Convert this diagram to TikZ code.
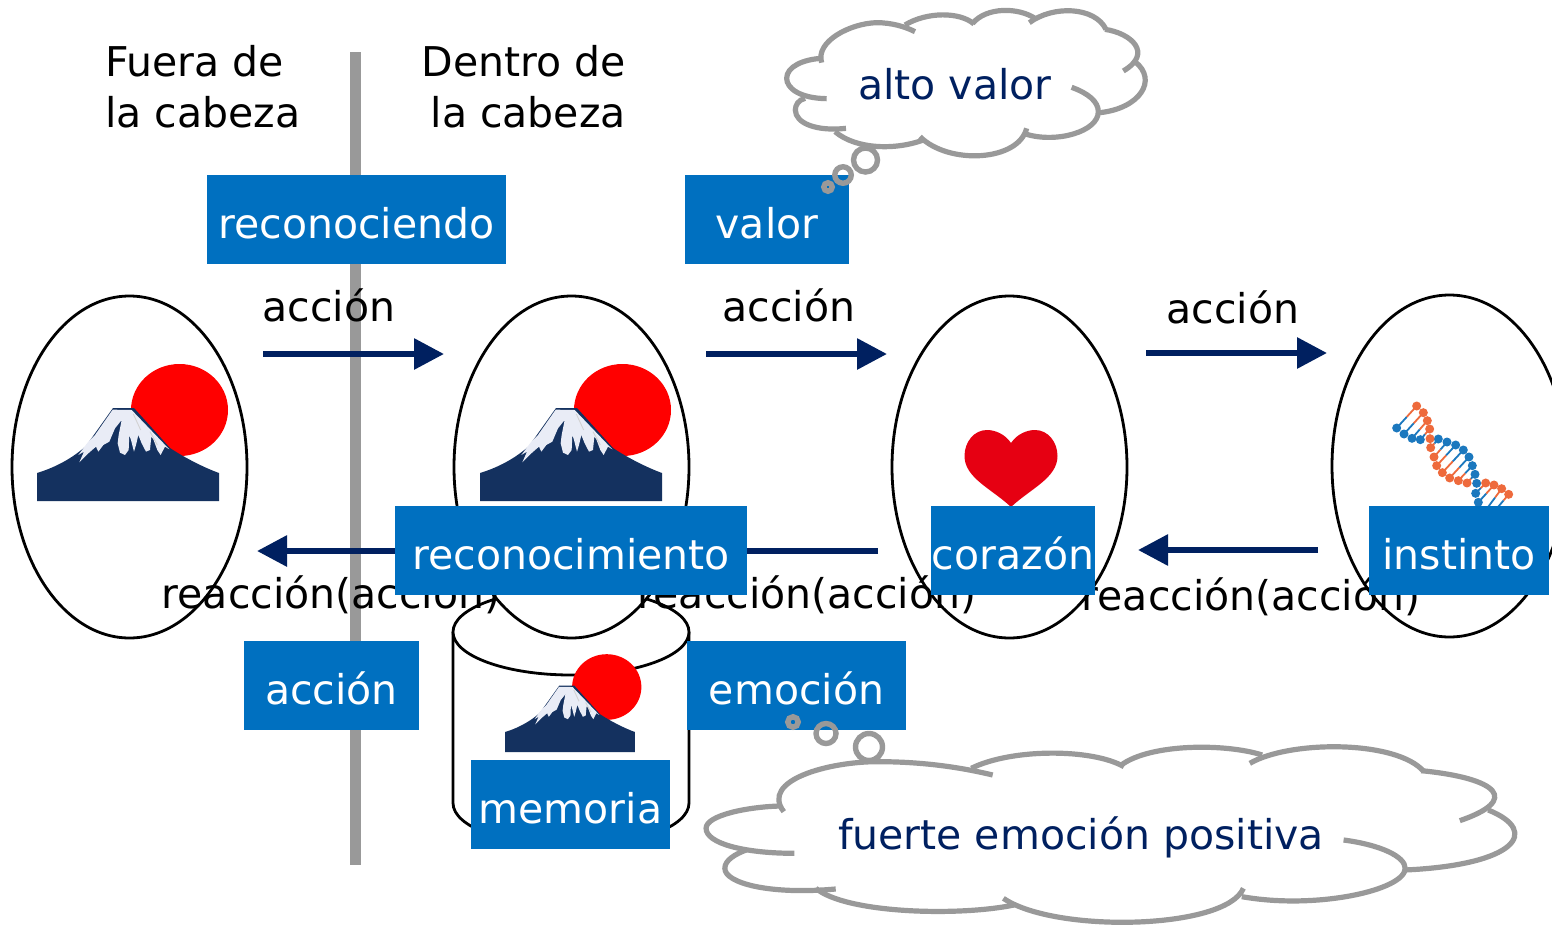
\documentclass[tikz,border=0pt]{standalone}
\usepackage{fontspec}
\setmainfont{DejaVu Sans}
\usetikzlibrary{shapes.geometric,arrows.meta}
\definecolor{navy}{HTML}{002060}
\definecolor{boxblue}{HTML}{0070C0}
\definecolor{bargray}{HTML}{999999}
\definecolor{fujidark}{HTML}{14315F}
\definecolor{fujisnow}{HTML}{E9ECF6}
\definecolor{heartred}{HTML}{E60012}
\definecolor{dnaorange}{HTML}{EE6A3C}
\definecolor{dnablue}{HTML}{1B78BE}
\tikzset{
  txt/.style={font=\fontsize{41}{51}\selectfont,inner sep=0pt,text height=30pt,text depth=0pt},
  bluebox/.style={fill=boxblue,text=white,font=\fontsize{41}{51}\selectfont,inner sep=0pt,text height=38pt,text depth=0pt,minimum height=89pt},
  egg/.style={ellipse,draw=black,fill=white,line width=2.8pt,minimum width=235pt,minimum height=342pt,inner sep=0pt},
  navyarrow/.style={draw=navy,line width=6pt,-{Triangle[length=30pt,width=30pt]}},
  cloudline/.style={draw=bargray,line width=5.2pt},
  bubble/.style={circle,draw=bargray,line width=5.4pt,inner sep=0pt},
}
\newcommand{\fuji}[3]{%
  \begin{scope}[shift={({#1-37*#3},{#2-501*#3})},scale=#3]
    \fill[red] (179.5,410) ellipse (48.5 and 46);
    \fill[fujidark] (37,473) .. controls (60,466) and (76,455) .. (86,446) -- (113,408) -- (134,408)
      -- (170,448) .. controls (185,458) and (205,468) .. (219,473) -- (219,501) -- (37,501) -- cycle;
    \begin{scope}[shift={(70,400)},scale=0.3333]
      \fill[fujisnow] (128,29) -- (185,30) -- (298,148) -- (285,140) -- (272,165) -- (262,150) -- (250,118)
        -- (244,110) -- (240,150) -- (228,155) -- (215,130) -- (205,105) -- (198,135) -- (192,155)
        -- (183,120) -- (178,105) -- (176,150) -- (165,165) -- (150,158) -- (143,130) -- (146,105)
        -- (155,60) -- (135,85) -- (118,125) -- (100,135) -- (85,155) -- (78,140) -- (55,160)
        -- (28,187) -- (42,155) -- (25,165) -- (55,125) -- (75,105) -- cycle;
      \draw[gray!35,line width=0.9pt] (190,42) -- (212,90);
      \draw[gray!35,line width=0.9pt] (240,95) -- (262,135);
    \end{scope}
  \end{scope}}
\begin{document}
\begin{tikzpicture}[x=1pt,y=-1pt]
\clip (0,0) rectangle (1552,926);
\fill[white] (0,0) rectangle (1552,926);
% bar
\coordinate (barTop) at (355,52);
\coordinate (barBot) at (355,865);
\draw[bargray,line width=11pt] (barTop) -- (barBot);
% cylinder
\draw[black,line width=2.8pt,fill=white] (453,632) -- (453,803) .. controls (453,827) and (505,846) .. (571,846)
  .. controls (637,846) and (689,827) .. (689,803) -- (689,632);
\node[ellipse,draw=black,fill=white,line width=2.8pt,minimum width=236pt,minimum height=86pt,inner sep=0pt] (cyltop) at (571,632) {};
% ovals
\node[egg] (e1) at (129.5,467) {};
\node[egg] (e2) at (571.5,467) {};
\node[egg] (e3) at (1009.5,467) {};
\node[egg] (e4) at (1449.5,466) {};
% pictures
\fuji{37}{501}{1}
\fuji{480}{501}{1}
\fuji{505}{752}{0.714}
% heart
\fill[heartred] (1011,443) .. controls (1005,434) and (995,430) .. (987,430)
  .. controls (974,430) and (964.5,442) .. (964.5,456)
  .. controls (964.5,478) and (992,489) .. (1011,507)
  .. controls (1030,489) and (1057.5,478) .. (1057.5,456)
  .. controls (1057.5,442) and (1048,430) .. (1035,430)
  .. controls (1027,430) and (1017,434) .. (1011,443) -- cycle;
% dna
\begin{scope}[shift={(1385,395)},scale=0.3333]
  \foreach \ox/\oy/\bx/\by in {95/33/35/99,115/53/57/117,127/77/81/130,134/102/106/134,137/158/160/132,147/186/186/141,155/212/212/150,172/233/235/165,194/249/252/186,220/257/262/212,246/264/270/238,302/264/272/295,327/270/280/322,350/281/310/335,371/298/340/335}{
    \draw[dnaorange,line width=1.8pt] (\ox,\oy) -- ({(\ox+\bx)/2},{(\oy+\by)/2});
    \draw[dnablue,line width=1.8pt] (\bx,\by) -- ({(\ox+\bx)/2},{(\oy+\by)/2});
  }
  \foreach \x/\y in {35/99,57/117,81/130,106/134,160/132,186/141,212/150,235/165,252/186,262/212,270/238,275/265,272/295,280/322}{
    \fill[dnablue] (\x,\y) circle (13.5);
  }
  \foreach \x/\y in {95/33,115/53,127/77,134/102,135/131,137/158,147/186,155/212,172/233,194/249,220/257,246/264,302/264,327/270,350/281,371/298}{
    \fill[dnaorange] (\x,\y) circle (13.5);
  }
\end{scope}
% arrows
\coordinate (a1s) at (263,354); \coordinate (a1e) at (444,354);
\coordinate (a2s) at (706,354); \coordinate (a2e) at (887,354);
\coordinate (a3s) at (1146,353); \coordinate (a3e) at (1327,353);
\coordinate (r1s) at (878,551); \coordinate (r1e) at (257,551);
\coordinate (r2s) at (1318,550); \coordinate (r2e) at (1138,550);
\draw[navyarrow] (a1s) -- (a1e);
\draw[navyarrow] (a2s) -- (a2e);
\draw[navyarrow] (a3s) -- (a3e);
\draw[navyarrow] (r1s) -- (r1e);
\draw[navyarrow] (r2s) -- (r2e);
% labels
\node[txt,anchor=base west,align=left] (fuera) at (105,127) {Fuera de\\la cabeza};
\node[txt,anchor=base east,align=right] (dentro) at (626,127) {Dentro de\\la cabeza};
\node[txt,anchor=base] (l1) at (329,321) {acción};
\node[txt,anchor=base] (l2) at (789,321) {acción};
\node[txt,anchor=base] (l3) at (1233,323) {acción};
\node[txt,anchor=base] (r1) at (331,608) {reacción(acción)};
\node[txt,anchor=base] (r2) at (807,608) {reacción(acción)};
\node[txt,anchor=base] (r3) at (1251,610) {reacción(acción)};
% blue boxes
\node[bluebox,minimum width=299pt] (b1) at (356.5,219.5) {reconociendo};
\node[bluebox,minimum width=164pt] (b2) at (767,219.5) {valor};
\node[bluebox,minimum width=352pt] (b3) at (571,550.5) {reconocimiento};
\node[bluebox,minimum width=164pt] (b4) at (1013,550.5) {corazón};
\node[bluebox,minimum width=180pt] (b5) at (1459,550.5) {instinto};
\node[bluebox,minimum width=175pt] (b6) at (331.5,685.5) {acción};
\node[bluebox,minimum width=219pt] (b7) at (796.5,685.5) {emoción};
\node[bluebox,minimum width=199pt] (b8) at (570.5,804.5) {memoria};
% cloud 1
\begin{scope}[shift={(770,0)},x=0.3333pt,y=-0.3333pt]
  \draw[cloudline] (155,188) .. controls (135,125) and (240,70) .. (320,68) .. controls (365,68) and (405,80) .. (435,95);
  \draw[cloudline] (405,75) .. controls (470,35) and (570,35) .. (612,72);
  \draw[cloudline] (608,70) .. controls (650,20) and (745,22) .. (795,55);
  \draw[cloudline] (778,68) .. controls (850,15) and (975,20) .. (1008,88);
  \draw[cloudline] (1005,88) .. controls (1085,100) and (1150,160) .. (1060,213);
  \draw[cloudline] (1095,185) .. controls (1165,240) and (1110,325) .. (990,338);
  \draw[cloudline] (905,262) .. controls (955,280) and (985,305) .. (985,335) .. controls (985,395) and (860,430) .. (770,403);
  \draw[cloudline] (770,385) .. controls (745,485) and (535,495) .. (450,410);
  \draw[cloudline] (460,420) .. controls (380,450) and (260,450) .. (195,395);
  \draw[cloudline] (228,385) .. controls (140,395) and (76,370) .. (76,330) .. controls (76,315) and (85,300) .. (105,295);
  \draw[cloudline] (170,296) .. controls (90,295) and (50,265) .. (50,235) .. controls (50,200) and (100,178) .. (155,175);
\end{scope}
\node[bubble,minimum size=24pt] (c1a) at (865.5,160) {};
\node[bubble,minimum size=16.5pt] (c1b) at (843,175) {};
\node[bubble,minimum size=8.5pt] (c1c) at (828,187) {};
\node[txt,text=navy,anchor=base] (t1) at (955,99) {alto valor};
% cloud 2
\begin{scope}[shift={(690,700)},x=0.5357pt,y=-0.3333pt]
  \draw[cloudline] (175,335) .. controls (130,240) and (260,185) .. (350,185) .. controls (430,185) and (500,200) .. (565,225);
  \draw[cloudline] (525,205) .. controls (600,145) and (750,145) .. (810,200);
  \draw[cloudline] (805,195) .. controls (860,130) and (1000,130) .. (1068,165);
  \draw[cloudline] (1045,190) .. controls (1120,120) and (1320,120) .. (1370,215);
  \draw[cloudline] (1365,212) .. controls (1510,235) and (1550,300) .. (1437,362);
  \draw[cloudline] (1490,330) .. controls (1590,395) and (1540,495) .. (1335,510);
  \draw[cloudline] (1220,420) .. controls (1290,435) and (1335,470) .. (1335,505) .. controls (1335,570) and (1170,630) .. (1030,590);
  \draw[cloudline] (1033,565) .. controls (1000,690) and (680,700) .. (585,595);
  \draw[cloudline] (605,615) .. controls (500,650) and (290,640) .. (235,565);
  \draw[cloudline] (272,567) .. controls (150,585) and (65,550) .. (65,505) .. controls (65,480) and (85,462) .. (105,450);
  \draw[cloudline] (195,460) .. controls (100,460) and (30,430) .. (30,385) .. controls (30,345) and (110,320) .. (170,318);
\end{scope}
\node[bubble,minimum size=27pt] (c2a) at (869,747) {};
\node[bubble,minimum size=20pt] (c2b) at (826,733.5) {};
\node[bubble,minimum size=10.5pt] (c2c) at (793,722) {};
\node[txt,text=navy,anchor=base] (t2) at (1081,849) {fuerte emoción positiva};
\end{tikzpicture}
\end{document}
